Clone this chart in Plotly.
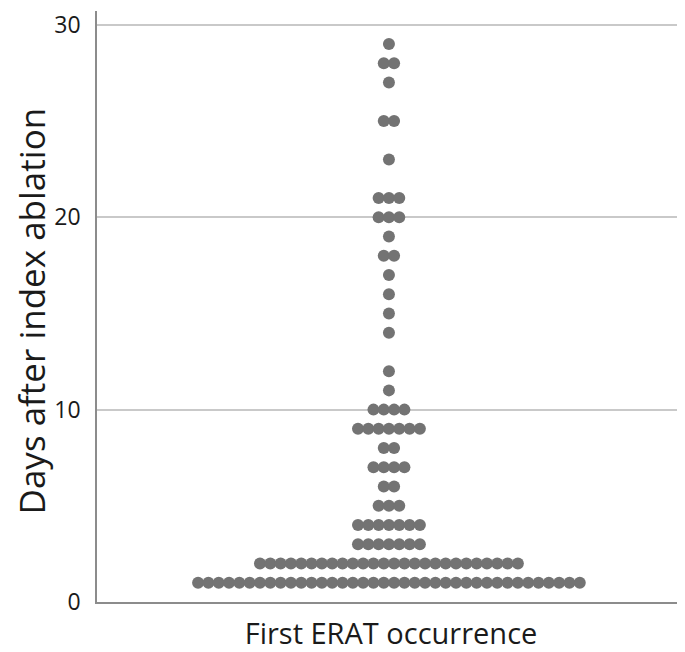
"""Dot plot: days after index ablation until first ERAT occurrence."""
import plotly.graph_objects as go

# days after ablation and how many patients had their first ERAT on that day
days = [1, 2, 3, 4, 5, 6, 7, 8, 9, 10, 11, 12, 14, 15, 16, 17, 18, 19, 20, 21, 23, 25, 27, 28, 29]
counts = [38, 26, 7, 7, 3, 2, 4, 2, 7, 4, 1, 1, 1, 1, 1, 1, 2, 1, 3, 3, 1, 2, 1, 2, 1]

y_ticks = [0, 10, 20, 30]
x_title = "First ERAT occurrence"
y_title = "Days after index ablation"

DOT = "#737373"
GRID = "#c9c9c9"
AXIS = "#8c8c8c"
FONT = "Open Sans, Lato, sans-serif"

# stack the dots side by side, centred on the category
xs, ys = [], []
for day, n in zip(days, counts):
    for i in range(n):
        xs.append(i - (n - 1) / 2)
        ys.append(day)

fig = go.Figure(
    go.Scatter(
        x=xs,
        y=ys,
        mode="markers",
        marker=dict(color=DOT, size=12, line=dict(width=0)),
        hoverinfo="y",
    )
)

# the page body adds an 8px margin, so the figure is a bit smaller than the window
fig.update_layout(
    width=677,
    height=644,
    margin=dict(l=89, r=0, t=0, b=50),
    plot_bgcolor="white",
    paper_bgcolor="white",
    showlegend=False,
    font=dict(family=FONT, color="#1a1a1a"),
)
fig.update_xaxes(
    range=[-28.3, 28.7],
    showticklabels=False,
    showgrid=False,
    zeroline=False,
    showline=True,
    linecolor=AXIS,
    linewidth=1.5,
    title=dict(text=x_title, font=dict(size=29, family=FONT), standoff=21),
)
fig.update_yaxes(
    range=[0, 30.72],
    tickvals=y_ticks,
    tickfont=dict(size=23, family=FONT),
    ticklabelstandoff=10,
    ticklabeloverflow="allow",
    showgrid=True,
    gridcolor=GRID,
    gridwidth=1.5,
    zeroline=False,
    showline=True,
    linecolor=AXIS,
    linewidth=1.5,
)

# y title as an annotation so it can sit closer to the page edge
fig.add_annotation(
    text=y_title,
    textangle=-90,
    xref="paper",
    yref="paper",
    x=0,
    y=0.5,
    xanchor="center",
    yanchor="middle",
    xshift=-66,
    yshift=-5,
    showarrow=False,
    font=dict(size=35, family=FONT, color="#1a1a1a"),
)

fig.write_html("out.html")
